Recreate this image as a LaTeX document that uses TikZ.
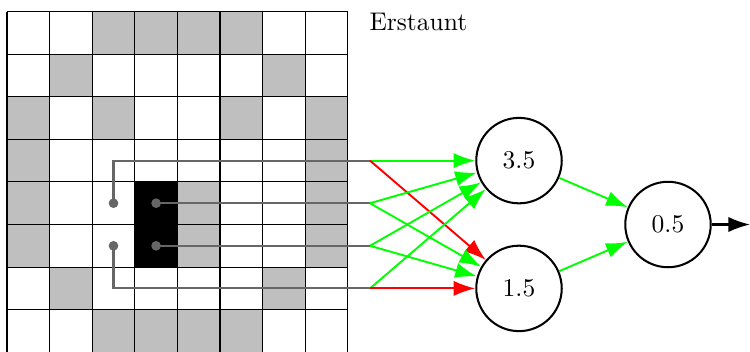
\documentclass[tikz,border=0pt]{standalone}
\usetikzlibrary{arrows.meta}
\begin{document}
\begin{tikzpicture}[x=0.392pt,y=-0.392pt,
  gridline/.style={draw=black, line width=0.45pt},
  neuron/.style={circle, draw=black, line width=0.8pt, minimum size=33.5pt, inner sep=0pt},
  wire/.style={draw=black!60, line width=0.8pt},
  tapdot/.style={circle, fill=black!60, inner sep=0pt, minimum size=3.8pt},
  excite/.style={-{Latex[length=8.5pt,width=6pt]}, draw=green, line width=0.75pt},
  inhibit/.style={-{Latex[length=8.5pt,width=6pt]}, draw=red, line width=0.75pt},
  outarrow/.style={-{Latex[length=8.5pt,width=6pt]}, draw=black, line width=0.8pt}
]
\useasboundingbox (0,0) rectangle (750,351);
\begin{scope}
\clip (0,0) rectangle (750,351);
% grey cells
\foreach \c/\r in {2/0,3/0,4/0,5/0,1/1,6/1,0/2,2/2,5/2,7/2,0/3,7/3,0/4,4/4,7/4,0/5,4/5,7/5,1/6,6/6,2/7,3/7,4/7,5/7}
  \fill[lightgray] ({7+42.6*\c},{11.5+42.6*\r}) rectangle ++(42.6,42.6);
\foreach \c/\r in {3/4,3/5}
  \fill[black] ({7+42.6*\c},{11.5+42.6*\r}) rectangle ++(42.6,42.6);
\foreach \i in {0,...,8} {
  \draw[gridline] ({7+42.6*\i},11.5) -- ++(0,340.8);
  \draw[gridline] (7,{11.5+42.6*\i}) -- ++(340.8,0);
}
\end{scope}
% taps
\node[tapdot] (d1) at (113.5,203.2) {};
\node[tapdot] (d2) at (156.1,203.2) {};
\node[tapdot] (d3) at (156.1,245.8) {};
\node[tapdot] (d4) at (113.5,245.8) {};
\coordinate (i1) at (370,160.6);
\coordinate (i2) at (370,203.2);
\coordinate (i3) at (370,245.8);
\coordinate (i4) at (370,288.4);
\draw[wire] (d1.center) |- (i1);
\draw[wire] (d2.center) -- (i2);
\draw[wire] (d3.center) -- (i3);
\draw[wire] (d4.center) |- (i4);
% neurons
\node[neuron] (h1) at (519,160.6) {3.5};
\node[neuron] (h2) at (519,288.4) {1.5};
\node[neuron] (o) at (668,224.5) {0.5};
\coordinate (out) at (750,224.5);
\draw[excite] (i1) -- (h1);
\draw[inhibit] (i1) -- (h2);
\draw[excite] (i2) -- (h1);
\draw[excite] (i2) -- (h2);
\draw[excite] (i3) -- (h1);
\draw[excite] (i3) -- (h2);
\draw[excite] (i4) -- (h1);
\draw[inhibit] (i4) -- (h2);
\draw[excite] (h1) -- (o);
\draw[excite] (h2) -- (o);
\draw[outarrow] (o) -- (out);
\node[anchor=west, inner sep=0pt] (title) at (369,21.5) {Erstaunt};
\end{tikzpicture}
\end{document}
